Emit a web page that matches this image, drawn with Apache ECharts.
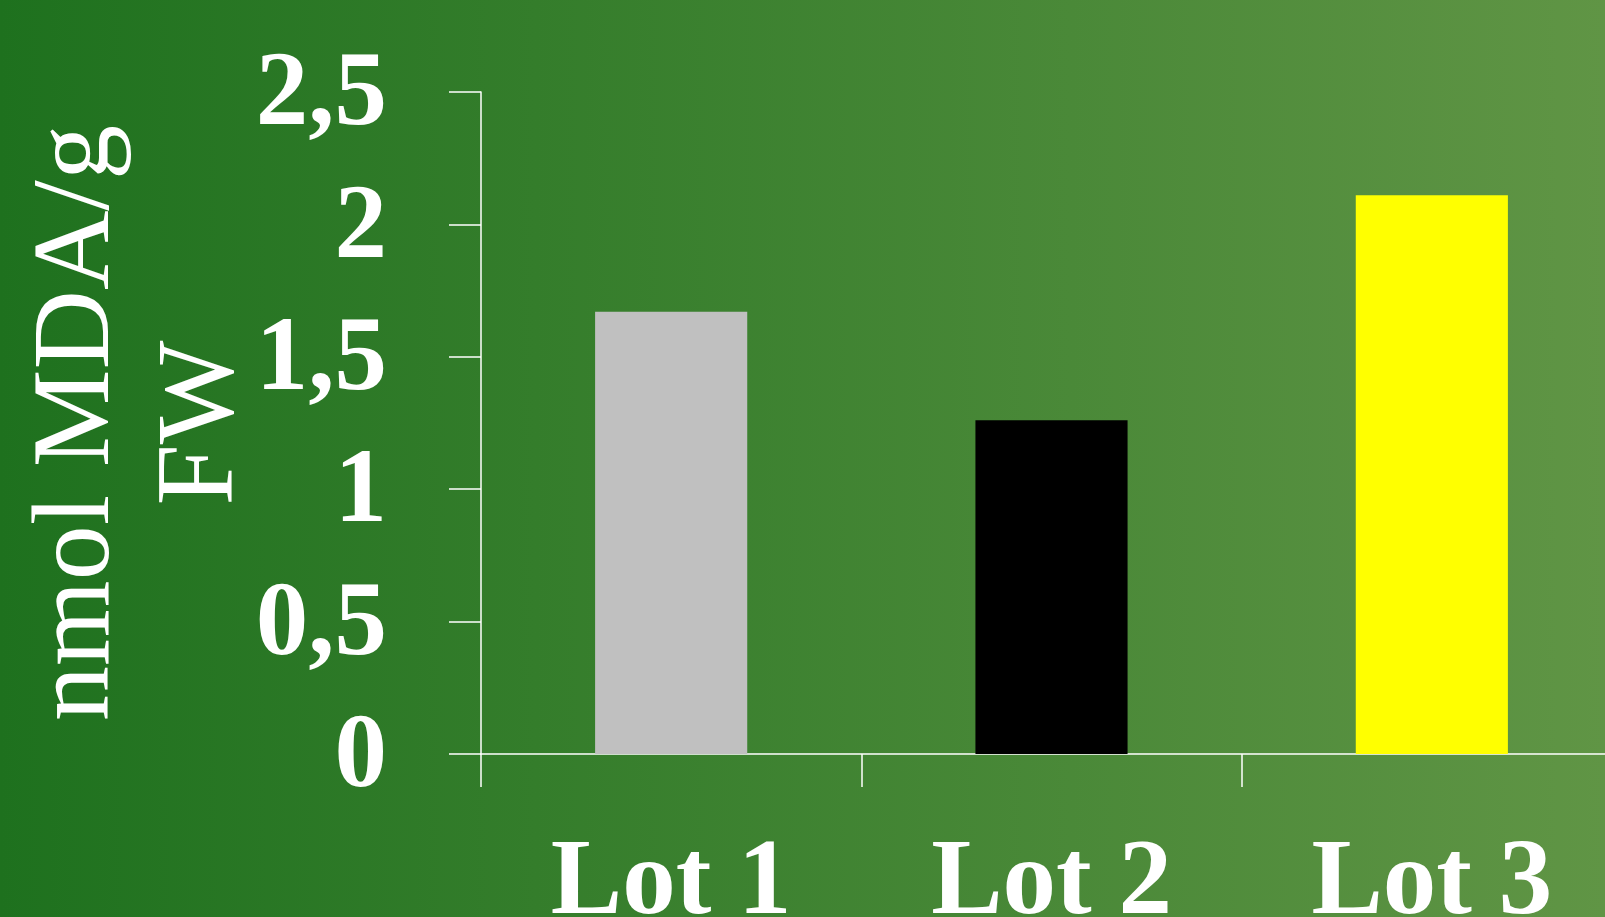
<!DOCTYPE html>
<html>
<head>
<meta charset="utf-8">
<script src="https://cdn.jsdelivr.net/npm/echarts@6/dist/echarts.min.js"></script>
<style>
  html, body { margin: 0; padding: 0; }
  #main { width: 1605px; height: 917px; }
</style>
</head>
<body>
<div id="main"></div>
<script>
// données
var categories = ["Lot 1", "Lot 2", "Lot 3"];
var values = [1.67, 1.26, 2.11];
var barColors = ["#c0c0c0", "#000000", "#ffff00"];
var yTicks = [0, 0.5, 1, 1.5, 2, 2.5];

var serif = "Liberation Serif";

var chart = echarts.init(document.getElementById("main"), null, { renderer: "canvas" });

option = {
  animation: false,
  backgroundColor: {
    type: "linear",
    x: 0, y: 0, x2: 1, y2: 0,
    colorStops: [
      { offset: 0, color: "#1e711e" },
      { offset: 1, color: "#609545" },
    ],
  },
  grid: {
    left: 481,
    top: 92,
    bottom: 163,
    width: 1141,
    containLabel: false,
    outerBoundsMode: "none",
  },
  xAxis: {
    type: "category",
    data: categories,
    boundaryGap: true,
    axisLine: { show: true, lineStyle: { color: "#fff", width: 1.5 } },
    axisTick: { show: true, alignWithLabel: false, length: 33, lineStyle: { color: "#fff", width: 1.5 } },
    axisLabel: {
      margin: 78,
      color: "#fff",
      fontFamily: serif,
      fontWeight: "bold",
      fontSize: 107,
    },
    splitLine: { show: false },
  },
  yAxis: {
    type: "value",
    min: yTicks[0],
    max: yTicks[yTicks.length - 1],
    interval: 0.5,
    name: "nmol MDA/g\nFW",
    nameLocation: "middle",
    nameGap: 216,
    nameMoveOverlap: false,
    nameTextStyle: {
      color: "#fff",
      fontFamily: serif,
      fontSize: 110,
      lineHeight: 124,
    },
    axisLine: { show: true, lineStyle: { color: "#fff", width: 1.5 } },
    axisTick: { show: true, length: 32, lineStyle: { color: "#fff", width: 1.5 } },
    axisLabel: {
      margin: 94,
      color: "#fff",
      fontFamily: serif,
      fontWeight: "bold",
      fontSize: 105,
      verticalAlign: "top",
      lineHeight: 10,
      formatter: function (v) {
        return String(v).replace(".", ",");
      },
    },
    splitLine: { show: false },
  },
  series: [
    {
      type: "bar",
      barWidth: "40%",
      data: values.map(function (v, i) {
        return { value: v, itemStyle: { color: barColors[i] } };
      }),
    },
  ],
};

chart.setOption(option);
</script>
</body>
</html>
